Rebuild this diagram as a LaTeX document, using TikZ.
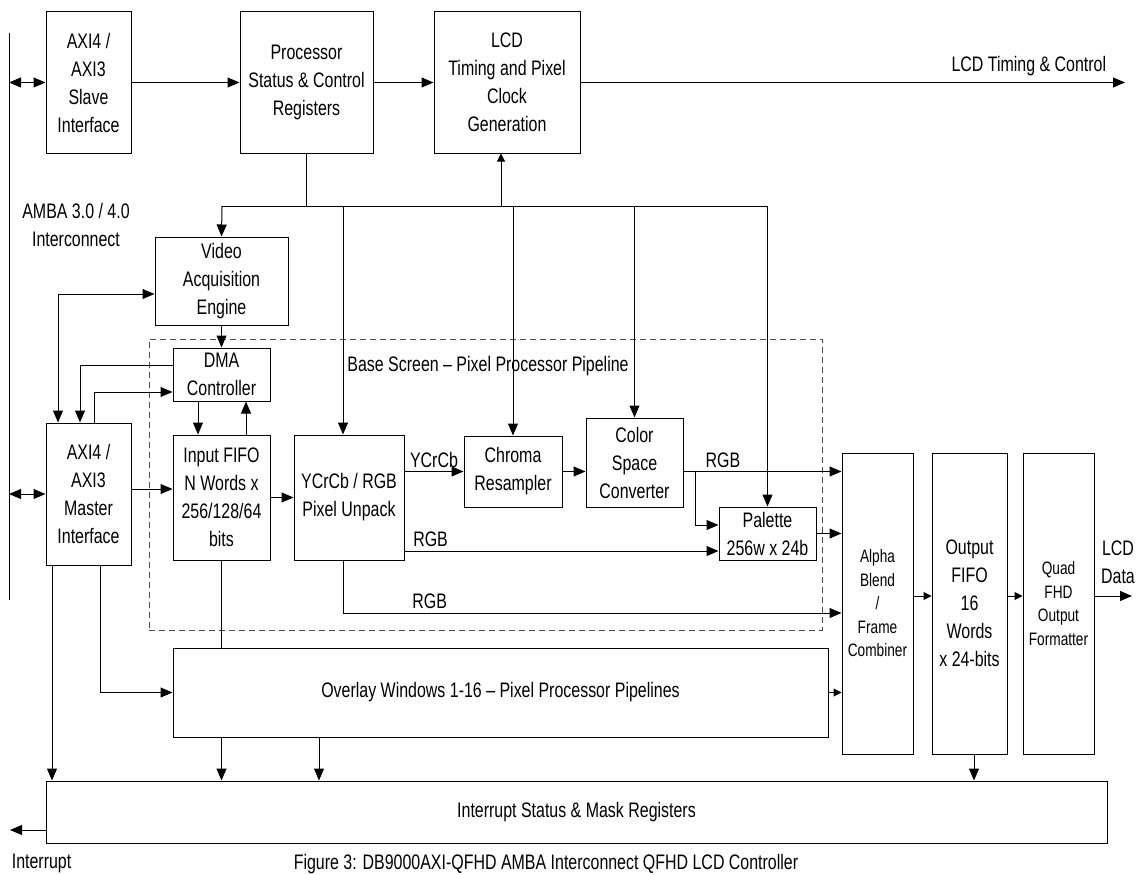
\documentclass[tikz,border=0pt]{standalone}
\usepackage{fontspec}
\setmainfont[FakeStretch=0.76]{Liberation Sans}
\usetikzlibrary{arrows.meta}

\begin{document}
\begin{tikzpicture}[x=1pt,y=-1pt,line width=1pt,
    font=\fontsize{21}{28}\selectfont,
    blk/.style={draw, align=center, inner sep=0pt},
    small/.style={font=\fontsize{18}{23.5}\selectfont},
    arr/.style={-{Triangle[length=12pt,width=10pt]}},
    sarr/.style={-{Triangle[length=8pt,width=8pt]}},
    darr/.style={{Triangle[length=12pt,width=10pt]}-{Triangle[length=12pt,width=10pt]}},
    pipebox/.style={draw=black!70, dash pattern=on 6pt off 4pt, inner sep=0pt}]
\useasboundingbox (0,0) rectangle (1141,875);

\node[blk, minimum width=85pt, minimum height=141pt] (slave) at (88.5,82.5) {AXI4 /\\AXI3\\Slave\\Interface};
\node[blk, minimum width=133pt, minimum height=141pt] (proc) at (306.5,82.5) {Processor\\Status \& Control\\Registers};
\node[blk, minimum width=146pt, minimum height=141pt] (lcd) at (507,82.5) {LCD\\Timing and Pixel\\Clock\\Generation};
\node[blk, minimum width=133pt, minimum height=88pt] (video) at (221.5,281) {Video\\Acquisition\\Engine};
\node[pipebox, minimum width=673pt, minimum height=291pt] (pipe) at (485.5,484.5) {};
\node (pipelbl) at (488,366) {Base Screen -- Pixel Processor Pipeline};
\node[blk, minimum width=97pt, minimum height=53pt] (dma) at (221.5,374.5) {DMA\\Controller};
\node[blk, minimum width=85pt, minimum height=142pt] (master) at (88.5,494) {AXI4 /\\AXI3\\Master\\Interface};
\node[blk, minimum width=97pt, minimum height=125pt] (ififo) at (221.5,497.5) {Input FIFO\\N Words x\\256/128/64\\bits};
\node[blk, minimum width=110pt, minimum height=125pt] (unpack) at (349,497.5) {YCrCb / RGB\\Pixel Unpack};
\node[blk, minimum width=98pt, minimum height=71pt] (chroma) at (513,471.5) {Chroma\\Resampler};
\node[blk, minimum width=97pt, minimum height=89pt] (csc) at (634.5,462.5) {Color\\Space\\Converter};
\node[blk, minimum width=97pt, minimum height=53pt] (palette) at (767.5,533.5) {Palette\\256w x 24b};
\node[blk, small, minimum width=71pt, minimum height=301pt] (alpha) at (877.5,603.5) {Alpha\\Blend\\/\\Frame\\Combiner};
\node[blk, minimum width=75pt, minimum height=301pt] (ofifo) at (969.5,603.5) {Output\\FIFO\\16\\Words\\x 24-bits};
\node[blk, small, minimum width=71pt, minimum height=301pt] (quad) at (1058.5,603.5) {Quad\\FHD\\Output\\Formatter};
\node[blk, minimum width=655pt, minimum height=89pt] (overlay) at (500.5,692.5) {Overlay Windows 1-16 -- Pixel Processor Pipelines};
\node[blk, minimum width=1061pt, minimum height=62pt] (irq) at (576.5,812) {Interrupt Status \& Mask Registers};

\node[align=center] (ambalbl) at (76,225) {AMBA 3.0 / 4.0\\Interconnect};
\node[anchor=base east] (tconlbl) at (1110,72) {LCD Timing \& Control};
\node[align=center] (ldlbl) at (1118,562) {LCD\\Data};
\node[anchor=base west] (intlbl) at (8,868) {Interrupt};
\node[anchor=base] (caption) at (546,869) {Figure 3: DB9000AXI-QFHD AMBA Interconnect QFHD LCD Controller};

% AMBA bus
\coordinate (ambaT) at (9,33);
\coordinate (ambaB) at (9,600);
\draw (ambaT) -- (ambaB);
\draw[darr] (slave.west -| ambaT) -- (slave.west);
\draw[darr] (master.west -| ambaT) -- (master.west);

% register path
\draw[arr] (slave) -- (proc);
\draw[arr] (proc) -- (lcd);
\coordinate (tcon) at (1125,82.5);
\draw[arr] (lcd) -- (tcon);

% control bus
\coordinate (busL) at (222,206);
\coordinate (busR) at (767.5,206);
\coordinate (tapL) at (501,206);
\coordinate (tapU) at (343,206);
\draw (proc.south) -- (proc.south |- busL);
\draw (busL) -- (busR);
\draw[arr] (busL) -- (video.north);
\draw[sarr] (tapL) -- (tapL |- lcd.south);
\draw[arr] (tapU) -- (tapU |- unpack.north);
\foreach \n in {chroma,csc,palette}
    \draw[arr] (\n.north |- busL) -- (\n.north);

% DMA and master interface
\coordinate (vm) at (58,294);
\draw[darr] (vm -| video.west) -- (vm) -- (vm |- master.north);
\draw[arr] (video) -- (dma);
\coordinate (dm1) at (80,365);
\draw[arr] (dm1 -| dma.west) -- (dm1) -- (dm1 |- master.north);
\coordinate (dm2) at (94,392);
\draw[arr] (dm2 |- master.north) -- (dm2) -- (dm2 -| dma.west);
\draw[arr] ([xshift=-23.5pt]dma.south) -- ([xshift=-23.5pt]ififo.north);
\draw[arr] ([xshift=24.5pt]ififo.north) -- ([xshift=24.5pt]dma.south);
\draw[arr] ([yshift=5pt]master.east) -- ([yshift=5pt]master.east -| ififo.west);

% base screen pipeline
\draw[arr] (ififo) -- (unpack);
\draw[arr] (unpack.east |- chroma) -- (chroma) node[midway, above] {YCrCb};
\draw[arr] (chroma) -- (chroma -| csc.west);
\draw[arr] (chroma -| csc.east) -- (chroma -| alpha.west) node[pos=0.25, above] {RGB};
\coordinate (br) at (695,471.5);
\coordinate (brb) at (695,525);
\draw[arr] (br) -- (brb) -- (brb -| palette.west);
\coordinate (rg2) at (404,551);
\draw[arr] (rg2 -| unpack.east) -- (rg2 -| palette.west) node[pos=0.083, above] {RGB};
\draw[arr] (palette) -- (palette -| alpha.west);
\coordinate (rg3) at (343,613);
\draw[arr] (rg3 |- unpack.south) -- (rg3) -- (rg3 -| alpha.west) node[pos=0.174, above] {RGB};

% overlay windows
\draw (ififo.south) -- (ififo.south |- overlay.north);
\coordinate (mo) at (100,692.5);
\draw[arr] (mo |- master.south) -- (mo) -- (overlay.west);
\draw[sarr] (overlay) -- (overlay -| alpha.west);

% output side
\draw[sarr] ([yshift=7.5pt]alpha.east) -- ([yshift=7.5pt]alpha.east -| ofifo.west);
\draw[sarr] ([yshift=7.5pt]ofifo.east) -- ([yshift=7.5pt]ofifo.east -| quad.west);
\coordinate (ldata) at (1132,596);
\draw[arr] (ldata -| quad.east) -- (ldata);

% interrupts
\coordinate (mi) at (52,700);
\draw[arr] (mi |- master.south) -- (mi |- irq.north);
\draw[arr] (ififo.south |- overlay.south) -- (ififo.south |- irq.north);
\coordinate (oi) at (319,760);
\draw[arr] (oi |- overlay.south) -- (oi |- irq.north);
\draw[arr] ([xshift=4.5pt]ofifo.south) -- ([xshift=4.5pt]ofifo.south |- irq.north);
\coordinate (intout) at (10,830);
\draw[arr] (intout -| irq.west) -- (intout);
\end{tikzpicture}
\end{document}
